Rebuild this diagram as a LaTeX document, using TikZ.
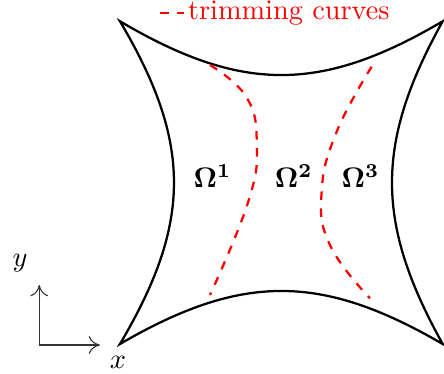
\documentclass[tikz,border=0pt]{standalone}
\usepackage{xcolor}
\definecolor{trimred}{RGB}{255, 0, 0}
\usetikzlibrary{arrows.meta}
\tikzset{
	boundary/.style={thick, draw=black, line join=miter},
	trimcurve/.style={thick, dashed, draw=trimred},
	domlabel/.style={anchor=base, inner sep=0pt},
	axisline/.style={-{To[length=1.4mm, width=2.2mm]}, draw=black!80},
	legendtext/.style={anchor=west, inner sep=0pt, text=trimred},
}

\begin{document}
\begin{tikzpicture}
		\useasboundingbox (0,0) rectangle (5.516,4.634);
		% corners of the patch
		\coordinate (tl) at (1.49,4.37);
		\coordinate (tr) at (5.50,4.37);
		\coordinate (br) at (5.50,0.36);
		\coordinate (bl) at (1.49,0.36);
		\draw[boundary] (tl) .. controls (3.0,3.479) and (3.99,3.479) .. (tr)
			.. controls (4.66,2.86) and (4.66,1.87) .. (br)
			.. controls (3.99,1.239) and (3.0,1.239) .. (bl)
			.. controls (2.385,1.87) and (2.385,2.86) .. (tl) -- cycle;
		% trimming curves
		\draw[trimcurve] plot[smooth, tension=0.75] coordinates {(2.609,3.826) (3.06,3.43) (3.19,2.85) (3.084,2.128) (2.609,0.969)};
		\draw[trimcurve] plot[smooth, tension=0.75] coordinates {(4.617,3.805) (4.183,2.998) (3.996,2.252) (4.099,1.590) (4.596,0.928)};
		% subdomains
		\node[domlabel] (om1) at (2.64,2.30) {$\mathbf{\Omega^1}$};
		\node[domlabel] (om2) at (3.65,2.30) {$\mathbf{\Omega^2}$};
		\node[domlabel] (om3) at (4.48,2.30) {$\mathbf{\Omega^3}$};
		% legend
		\coordinate (leg1) at (1.988,4.472);
		\coordinate (leg2) at (2.286,4.472);
		\draw[trimcurve] (leg1) -- (leg2);
		\node[legendtext] (legtxt) at (2.330,4.472) {trimming curves};
		% axes
		\coordinate (orig) at (0.488,0.348);
		\coordinate (yend) at (0.488,1.093);
		\coordinate (xend) at (1.242,0.348);
		\draw[axisline] (orig) -- (yend);
		\draw[axisline] (orig) -- (xend);
		\node (ylab) at (0.248,1.36) {$y$};
		\node (xlab) at (1.466,0.137) {$x$};
	\end{tikzpicture}
\end{document}
